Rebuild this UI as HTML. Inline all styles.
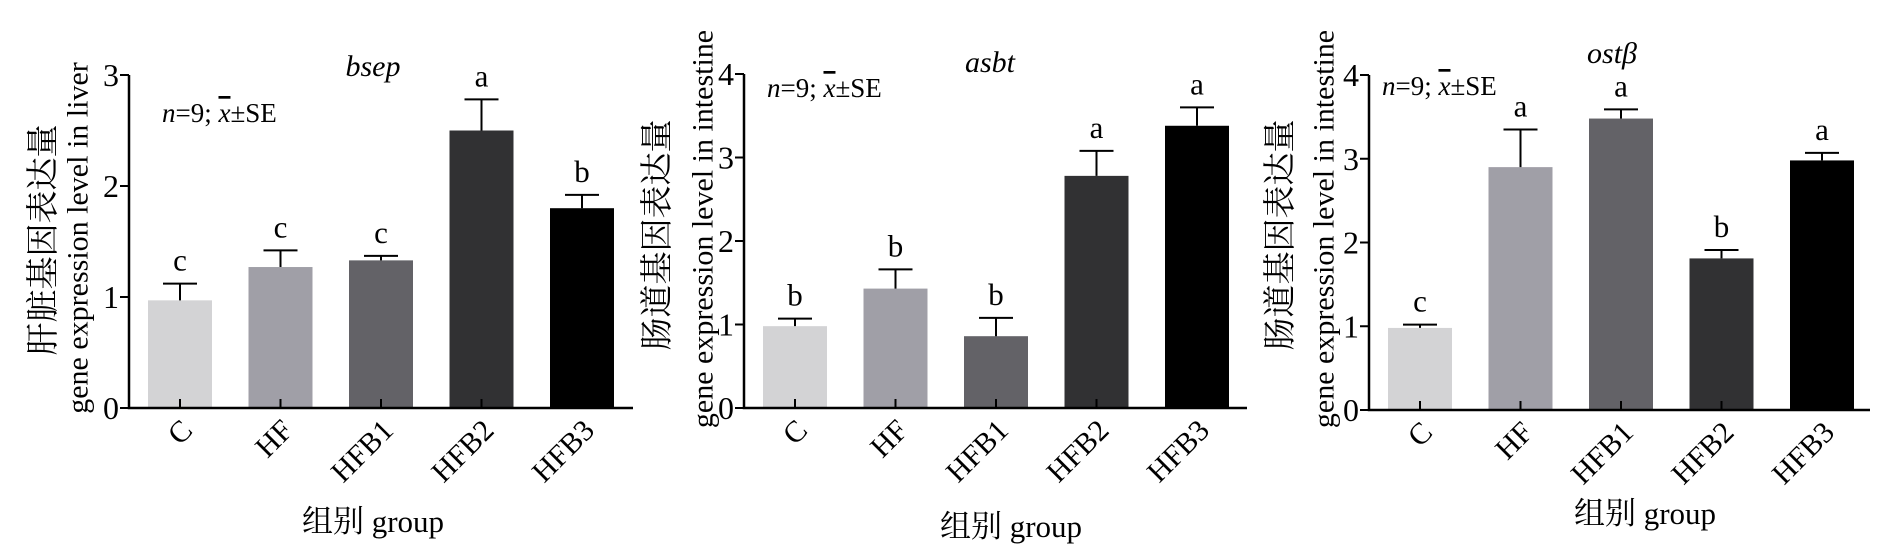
<!DOCTYPE html>
<html><head><meta charset="utf-8"><style>
html,body{margin:0;padding:0;background:#fff;}
svg{display:block;font-family:"Liberation Serif","Noto Serif CJK SC","Noto Sans CJK SC",serif;}
</style></head><body>
<svg id="fig" width="1896" height="555" viewBox="0 0 1896 555" xmlns="http://www.w3.org/2000/svg"></svg>
<script>
const categories = ["C","HF","HFB1","HFB2","HFB3"];
const barColors = ["#d3d3d5","#a09fa7","#636267","#313133","#000000"];
const bsepValues = [0.97,1.27,1.33,2.5,1.8];
const bsepErrTops = [1.12,1.42,1.37,2.78,1.92];
const bsepLetters = ["c","c","c","a","b"];
const bsepTicks = [0,1,2,3];
const asbtValues = [0.98,1.43,0.86,2.78,3.38];
const asbtErrTops = [1.07,1.66,1.08,3.08,3.6];
const asbtLetters = ["b","b","b","a","a"];
const asbtTicks = [0,1,2,3,4];
const ostValues = [0.98,2.9,3.48,1.81,2.98];
const ostErrTops = [1.02,3.35,3.59,1.91,3.07];
const ostLetters = ["c","a","a","b","a"];
const ostTicks = [0,1,2,3,4];

const NS="http://www.w3.org/2000/svg";
const svg=document.getElementById('fig');
function mk(tag,attrs,parent){const e=document.createElementNS(NS,tag);for(const k in attrs)e.setAttribute(k,attrs[k]);(parent||svg).appendChild(e);return e;}

const panels=[
 {id:"bsep",title:"bsep",axisX:129,axisEnd:633,yTop:75,y0:408,vals:bsepValues,errs:bsepErrTops,letters:bsepLetters,ticks:bsepTicks,
  cn:"肝脏基因表达量",en:"gene expression level in liver",cnX:44,enX:78,cnY:240,enY:238,titleX:373,titleY:66,nX:162,nY:112,gX:373,gY:522},
 {id:"asbt",title:"asbt",axisX:744,axisEnd:1247,yTop:74,y0:408,vals:asbtValues,errs:asbtErrTops,letters:asbtLetters,ticks:asbtTicks,
  cn:"肠道基因表达量",en:"gene expression level in intestine",cnX:658,enX:703,cnY:235,enY:229,titleX:990,titleY:62,nX:767,nY:87,gX:1011,gY:527},
 {id:"ostb",title:"ostβ",axisX:1369,axisEnd:1870,yTop:75,y0:410,vals:ostValues,errs:ostErrTops,letters:ostLetters,ticks:ostTicks,
  cn:"肠道基因表达量",en:"gene expression level in intestine",cnX:1281,enX:1324,cnY:235,enY:229,titleX:1612,titleY:53,nX:1382,nY:85,gX:1645,gY:514}
];

panels.forEach(p=>{
  const g=mk('g',{});
  
  
  const maxT=p.ticks[p.ticks.length-1];
  const yS=v=>p.y0-(v/maxT)*(p.y0-p.yTop);
  const xC=i=>p.axisX+51+i*100.5;
  // bars
  p.vals.forEach((v,i)=>{
    const r=mk('rect',{x:xC(i)-32,y:yS(v),width:64,height:p.y0-yS(v),fill:barColors[i]},g);
    
    
    const e=mk('path',{d:`M${xC(i)},${yS(v)} V${yS(p.errs[i])} M${xC(i)-17},${yS(p.errs[i])} H${xC(i)+17}`,stroke:'#000','stroke-width':2,fill:'none'},g);
    
    
    const t=mk('path',{d:`M${xC(i)},${p.y0-9} V${p.y0}`,stroke:'#000','stroke-width':2},g);
    
    
    const l=mk('text',{x:xC(i),y:yS(p.errs[i])-13,'text-anchor':'middle','font-size':31},g);
    l.textContent=p.letters[i];
    
    
    const xl=mk('text',{x:0,y:0,'text-anchor':'end','font-size':30,transform:`translate(${xC(i)+14},${p.y0+24}) rotate(-45)`},g);
    xl.textContent=categories[i];
    
    
  });
  // axes
  const ax=mk('path',{d:`M${p.axisX},${p.yTop} V${p.y0} H${p.axisEnd}`,stroke:'#000','stroke-width':2.5,fill:'none'},g);
  
  
  p.ticks.forEach(tv=>{
    const tk=mk('path',{d:`M${p.axisX-9},${yS(tv)} H${p.axisX}`,stroke:'#000','stroke-width':2},g);
    
    
    const tl=mk('text',{x:p.axisX-10,y:yS(tv)+11,'text-anchor':'end','font-size':32},g);
    tl.textContent=tv;
    
    
  });
  const cn=mk('text',{x:0,y:0,'text-anchor':'middle','dominant-baseline':'central','font-size':33,transform:`translate(${p.cnX},${p.cnY}) rotate(-90)`},g);
  cn.textContent=p.cn;
  
  
  const en=mk('text',{x:0,y:0,'text-anchor':'middle','dominant-baseline':'central','font-size':30,transform:`translate(${p.enX},${p.enY}) rotate(-90)`},g);
  en.textContent=p.en;
  
  
  const ti=mk('text',{x:p.titleX,y:p.titleY+10,'text-anchor':'middle','font-size':30,'font-style':'italic'},g);
  ti.textContent=p.title;
  
  
  const n=mk('text',{x:p.nX,y:p.nY+10,'font-size':27},g);
  n.innerHTML='<tspan font-style="italic">n</tspan>=9; <tspan font-style="italic" text-decoration="overline">x</tspan>±SE';
  
  
  const gl=mk('text',{x:p.gX,y:p.gY+10,'text-anchor':'middle','font-size':31},g);
  gl.textContent='组别 group';
  
  
});
</script>
</body></html>
